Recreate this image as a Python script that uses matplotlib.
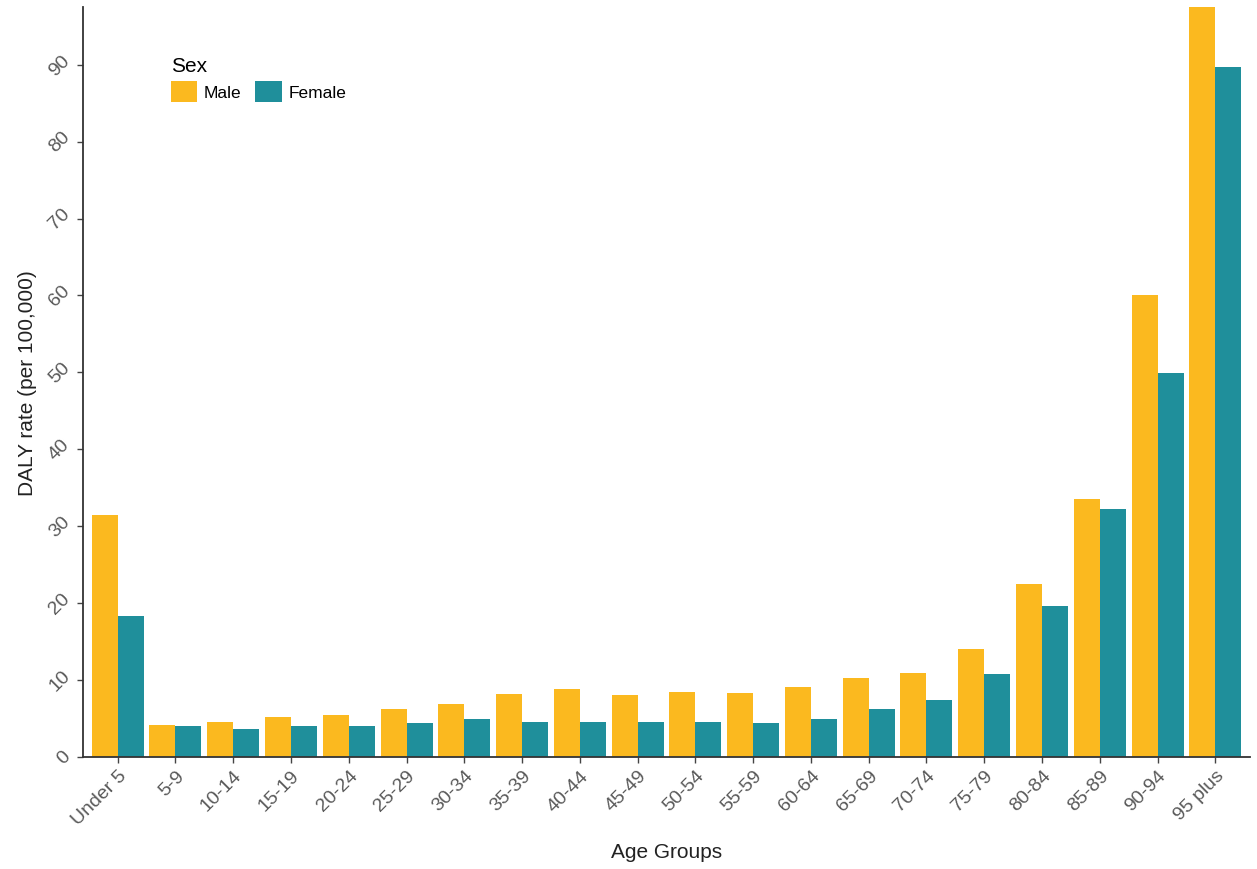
import numpy as np
import matplotlib
matplotlib.use("Agg")
import matplotlib.pyplot as plt

plt.rcParams['font.family'] = ['Liberation Sans', 'DejaVu Sans']

age_groups = ["Under 5", "5-9", "10-14", "15-19", "20-24", "25-29", "30-34",
              "35-39", "40-44", "45-49", "50-54", "55-59", "60-64", "65-69",
              "70-74", "75-79", "80-84", "85-89", "90-94", "95 plus"]
male = [31.5, 4.1, 4.6, 5.2, 5.4, 6.2, 6.9, 8.2, 8.8, 8.1, 8.4, 8.3, 9.1,
        10.3, 10.9, 14.0, 22.5, 33.5, 60.0, 104.0]
female = [18.3, 4.0, 3.6, 4.0, 4.0, 4.4, 4.9, 4.6, 4.6, 4.5, 4.6, 4.4, 4.9,
          6.2, 7.4, 10.8, 19.6, 32.3, 49.9, 89.7]
y_ticks = [0, 10, 20, 30, 40, 50, 60, 70, 80, 90]

male_col = "#FBB91F"
female_col = "#1F8F9B"

fig = plt.figure(figsize=(12.57, 8.7), dpi=100)
ax = fig.add_axes([83 / 1257, 112 / 870, (1250 - 83) / 1257, (758 - 8) / 870])

x = np.arange(len(age_groups))
w = 0.45
ax.bar(x - w / 2, male, width=w, color=male_col, label="Male")
ax.bar(x + w / 2, female, width=w, color=female_col, label="Female")

ax.set_xlim(-0.6, len(age_groups) - 1 + 0.6)
ax.set_ylim(0, 97.5)
ax.set_xticks(x)
ax.set_xticklabels(age_groups, rotation=45, ha='right', rotation_mode='anchor',
                   fontsize=14, color="#5a5a5a")
ax.set_yticks(y_ticks)
ax.set_yticklabels([str(v) for v in y_ticks], rotation=45, fontsize=14,
                   color="#5a5a5a", va='center')
ax.tick_params(axis='both', length=4, width=1, color="#444444", pad=3)

for s in ["top", "right"]:
    ax.spines[s].set_visible(False)
for s in ["left", "bottom"]:
    ax.spines[s].set_color("#333333")
    ax.spines[s].set_linewidth(1.3)

ax.set_xlabel("Age Groups", fontsize=15, color="#222222", labelpad=10)
ax.set_ylabel("DALY rate (per 100,000)", fontsize=15, color="#222222", labelpad=6)

leg = ax.legend(ncol=2, title="Sex", loc="upper left",
                bbox_to_anchor=(0.062, 0.955), frameon=False, fontsize=12.5,
                title_fontsize=15, handlelength=1.5, handleheight=1.5,
                handletextpad=0.4, columnspacing=0.8, labelspacing=0.3)
leg._legend_box.align = "left"

fig.savefig("out.png", dpi=100)
